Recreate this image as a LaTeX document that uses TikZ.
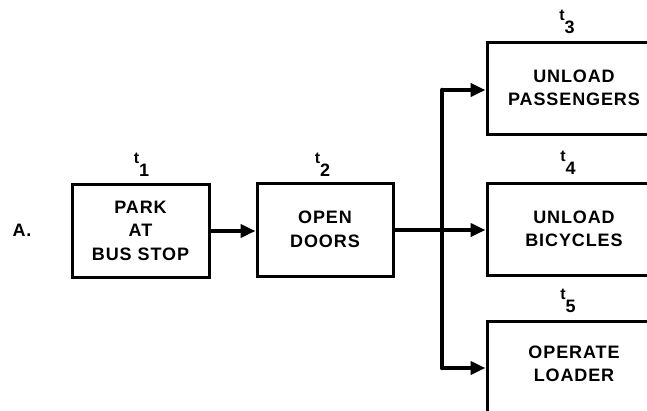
\documentclass[tikz,border=0pt]{standalone}
\usepackage{fontspec}
\setmainfont{Liberation Sans}
\newfontfamily\boxfont[LetterSpace=5]{Liberation Sans Bold}
\newfontfamily\labfont{Liberation Sans Bold}
\usetikzlibrary{arrows.meta}
\newcommand{\tsub}[1]{{\labfont\fontsize{16}{16}\selectfont t}\raisebox{-13pt}{\labfont\fontsize{18}{18}\selectfont #1}}
\begin{document}
\begin{tikzpicture}[x=1pt,y=-1pt,
  box/.style={draw, line width=3pt, inner sep=0pt, align=center,
    font=\boxfont\fontsize{18}{23.5}\selectfont},
  boxtext/.style={inner sep=0pt, align=center,
    font=\boxfont\fontsize{18}{23.5}\selectfont},
  tlab/.style={inner sep=0pt, anchor=south},
  flow/.style={line width=4.5pt, -{Triangle[length=15pt,width=13pt]}},
  bus/.style={line width=4.5pt}]
\useasboundingbox (0,0) rectangle (647,410);
\clip (0,0) rectangle (647,410);

\node[boxtext] (A) at (22,230) {A.};

\node[box, minimum width=137pt, minimum height=93pt] (b1) at (140.5,230.5) {PARK\\AT\\BUS STOP};
\node[box, minimum width=136pt, minimum height=93pt] (b2) at (325,229.5) {OPEN\\DOORS};
\node[box, minimum width=174pt, minimum height=92pt] (b3) at (574,88) {UNLOAD\\PASSENGERS};
\node[box, minimum width=174pt, minimum height=92pt] (b4) at (574,229) {UNLOAD\\BICYCLES};
\node[box, minimum width=174pt, minimum height=100pt] (b5) at (574,371) {};
\node[boxtext] (b5t) at (574,364) {OPERATE\\LOADER};

\node[tlab] (t1) at (141.5,177) {\tsub{1}};
\node[tlab] (t2) at (322.5,177) {\tsub{2}};
\node[tlab] (t3) at (567,34) {\tsub{3}};
\node[tlab] (t4) at (568,175) {\tsub{4}};
\node[tlab] (t5) at (568,313) {\tsub{5}};

\coordinate (split) at (442,230);
\coordinate (btop) at (442,90);
\coordinate (bbot) at (442,368);

\draw[flow] (b1.east |- 0,231) -- (b2.west |- 0,231);
\draw[flow] (b2.east |- split) -- (b4.west |- split);
\draw[bus, line cap=round] (btop) -- (bbot);
\draw[flow] (btop) -- (btop -| b3.west);
\draw[flow] (bbot) -- (bbot -| b5.west);
\end{tikzpicture}
\end{document}
